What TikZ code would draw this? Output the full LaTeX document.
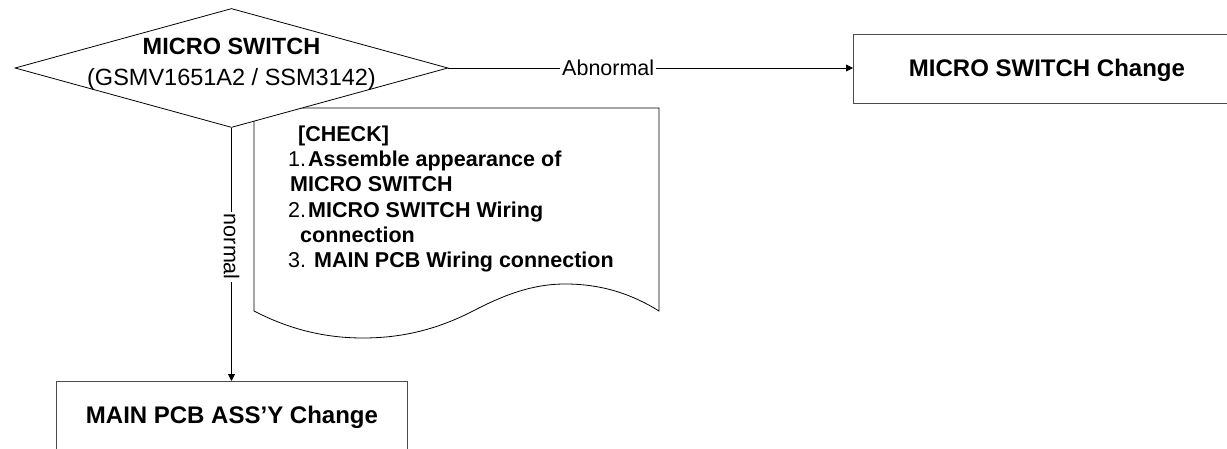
\documentclass[tikz,border=0pt]{standalone}
\usepackage{fontspec}
\setmainfont{Liberation Sans}
\usetikzlibrary{shapes.geometric,arrows.meta}
\tikzset{
  procbox/.style={draw=black!70, line width=0.9pt, inner sep=0pt, anchor=north west,
    font=\fontsize{24}{28}\selectfont\bfseries},
  decision/.style={diamond, draw, fill=white, line width=0.8pt,
    minimum width=433pt, minimum height=119pt, inner sep=0pt},
  flow/.style={draw, line width=0.8pt, -{Triangle[length=7pt,width=7pt]}},
  lbl/.style={fill=white, inner xsep=2pt, inner ysep=1pt, font=\fontsize{21.5}{25}\selectfont},
  chk/.style={anchor=base west, inner sep=0pt, font=\fontsize{21.5}{25}\selectfont},
  dtitle/.style={anchor=base, inner sep=0pt, font=\fontsize{23.5}{28}\selectfont\bfseries},
  dsub/.style={anchor=base, inner sep=0pt, font=\fontsize{23.5}{28}\selectfont},
  docshape/.style={draw, line width=0.8pt, fill=white}
}
\begin{document}
\begin{tikzpicture}[x=1pt,y=-1pt]
\useasboundingbox (0,0) rectangle (1227,449);
\clip (0,0) rectangle (1227,449);

% check document (behind the diamond)
\draw[docshape] (254,311) -- (254,108) -- (659,108) -- (659,311)
  .. controls (630,293) and (600,284) .. (565,284)
  .. controls (530,284) and (500,297) .. (473,311)
  .. controls (440,328) and (405,338) .. (363,338)
  .. controls (320,338) and (285,327) .. (254,311) -- cycle;

% decision
\node[decision] (sw) at (231.5,68) {};
\node[dtitle] (swt) at (231.5,54.3) {MICRO SWITCH};
\node[dsub] (sws) at (231.5,85.5) {(GSMV1651A2 / SSM3142)};

% process boxes
\node[procbox, minimum width=387pt, text height=42pt, text depth=27pt] (msc) at (853,34) {MICRO SWITCH Change};
\node[procbox, minimum width=351pt, text height=42pt, text depth=50pt] (pcb) at (56,381) {MAIN PCB ASS’Y Change};

% check text
\node[chk] (c0) at (298,141.5) {\textbf{[CHECK]}};
\node[chk] (c1) at (288,166.7) {1.\hspace{2pt}\textbf{Assemble appearance of}};
\node[chk] (c2) at (290,191.9) {\textbf{MICRO SWITCH}};
\node[chk] (c3) at (288,217.1) {2.\hspace{2pt}\textbf{MICRO SWITCH Wiring}};
\node[chk] (c4) at (300,242.3) {\textbf{connection}};
\node[chk] (c5) at (288,267.5) {3. \textbf{MAIN PCB Wiring connection}};

% connectors
\draw[flow] (sw.east) -- (sw.east -| msc.west) node[lbl, pos=0.395] (abn) {Abnormal};
\draw[flow] (sw.south) -- (sw.south |- pcb.north) node[lbl, pos=0.47, rotate=-90] (nor) {normal};
\end{tikzpicture}
\end{document}
